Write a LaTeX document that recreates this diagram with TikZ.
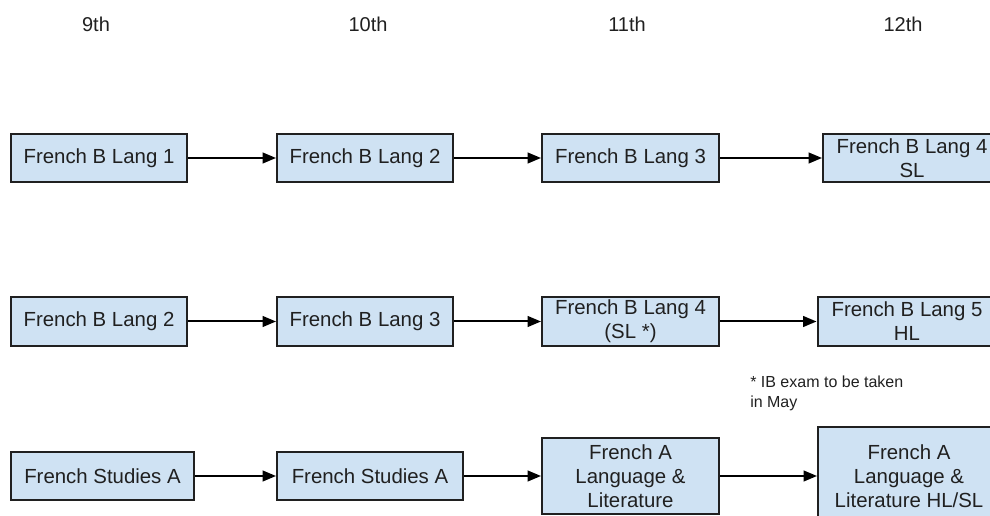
\documentclass[tikz,border=0pt]{standalone}
\usepackage{fontspec}
\setmainfont{Liberation Sans}
\usetikzlibrary{arrows.meta}
\definecolor{boxfill}{HTML}{CFE2F3}
\definecolor{boxline}{HTML}{202020}
\definecolor{txt}{HTML}{202020}
\begin{document}
\begin{tikzpicture}[x=0.75pt,y=-0.75pt,
  course/.style={draw=boxline, fill=boxfill, line width=1.5pt, inner sep=0pt,
    align=center, text=txt, font=\fontsize{15.3}{18}\selectfont},
  head/.style={text=txt, font=\fontsize{15}{18}\selectfont, inner sep=0pt},
  note/.style={text=txt, font=\fontsize{12}{15}\selectfont, inner sep=0pt, align=left},
  arr/.style={line width=1.5pt, draw=black, -{Triangle[length=10pt,width=8pt]}}]
\useasboundingbox (0,0) rectangle (990,516);
\clip (0,0) rectangle (990,516);
% headers
\node[head] (h9) at (96,24) {9th};
\node[head] (h10) at (368,24) {10th};
\node[head] (h11) at (627,24) {11th};
\node[head] (h12) at (903,24) {12th};
% row 1
\node[course, minimum width=132pt, minimum height=36pt] (a1) at (99,158) {French B Lang 1};
\node[course, minimum width=132pt, minimum height=36pt] (a2) at (365,158) {French B Lang 2};
\node[course, minimum width=132.75pt, minimum height=36pt] (a3) at (630.5,158) {French B Lang 3};
\node[course, minimum width=133.5pt, minimum height=36pt] (a4) at (912,158) {French B Lang 4\\SL};
% row 2
\node[course, minimum width=132pt, minimum height=36.75pt] (b1) at (99,321.5) {French B Lang 2};
\node[course, minimum width=132pt, minimum height=36.75pt] (b2) at (365,321.5) {French B Lang 3};
\node[course, minimum width=132.75pt, minimum height=36.75pt] (b3) at (630.5,321.5) {French B Lang 4\\(SL *)};
\node[course, minimum width=134.25pt, minimum height=36.75pt] (b4) at (907,321.5) {French B Lang 5\\HL};
% row 3
\node[course, minimum width=137.25pt, minimum height=36pt] (c1) at (102.5,476) {French Studies A};
\node[course, minimum width=139.5pt, minimum height=36pt] (c2) at (370,476) {French Studies A};
\node[course, minimum width=132.75pt, minimum height=57pt] (c3) at (630.5,476) {French A\\Language \&\\Literature};
\node[course, minimum width=136.5pt, minimum height=73.5pt] (c4) at (909,476) {French A\\Language \&\\Literature HL/SL};
% note
\node[note, anchor=north west] (n1) at (750,376) {* IB exam to be taken\\in May};
% arrows
\draw[arr] (a1) -- (a2);
\draw[arr] (a2) -- (a3);
\draw[arr] (a3) -- (a4);
\draw[arr] (b1) -- (b2);
\draw[arr] (b2) -- (b3);
\draw[arr] (b3) -- (b4);
\draw[arr] (c1) -- (c2);
\draw[arr] (c2) -- (c3);
\draw[arr] (c3) -- (c4);
\end{tikzpicture}
\end{document}
